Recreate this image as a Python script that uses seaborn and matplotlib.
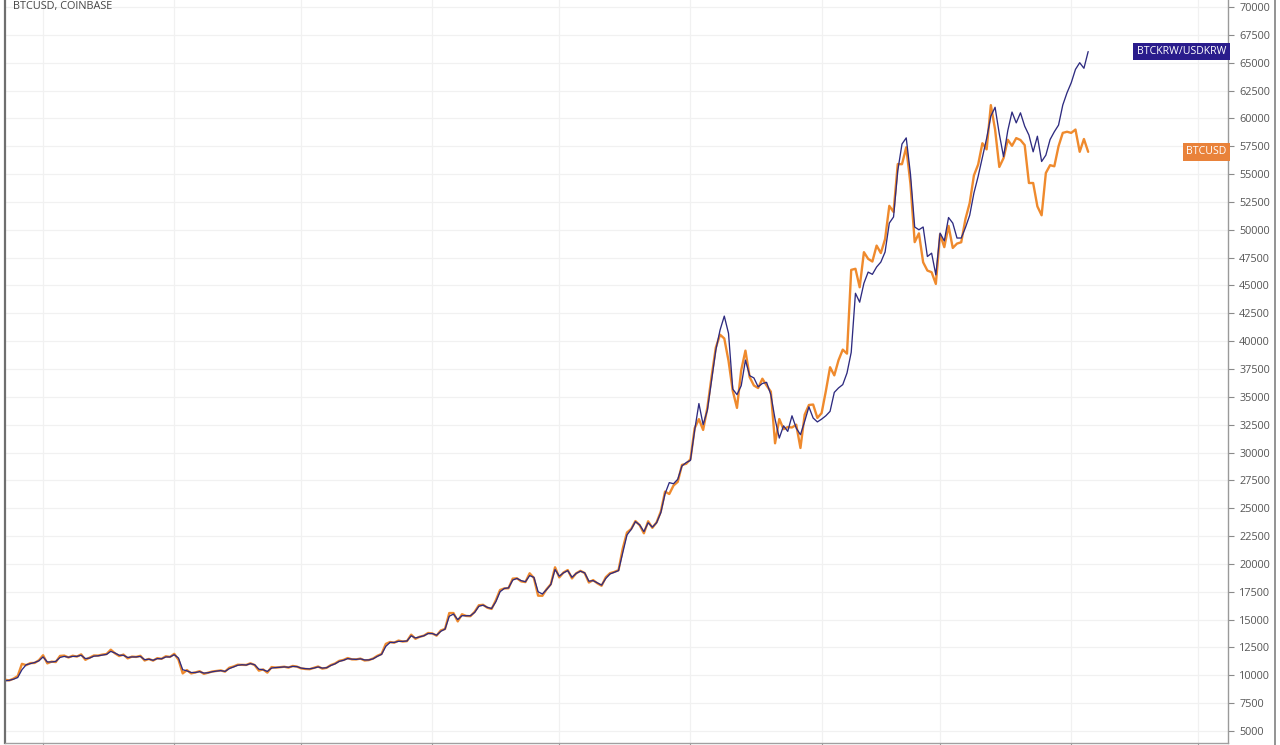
import matplotlib
matplotlib.use("Agg")
import matplotlib.pyplot as plt
import matplotlib.dates as mdates
import matplotlib.transforms as mtransforms
from matplotlib.lines import Line2D
import pandas as pd
import seaborn as sns

# ---------------- data (daily, 2020-07-23 .. 2021-04-05) ----------------
start_date = "2020-07-23"
end_date = "2021-04-05"

btcusd = [
    # Jul 23-31
    9600, 9540, 9700, 9930, 11030, 10910, 11100, 11110, 11350,
    # Aug
    11800, 11070, 11230, 11190, 11740, 11770, 11600, 11760, 11680, 11880,
    11390, 11580, 11780, 11770, 11860, 11910, 12300, 11970, 11730, 11860,
    11520, 11680, 11650, 11750, 11330, 11470, 11320, 11540, 11480, 11710, 11650,
    # Sep
    11930, 11400, 10170, 10470, 10170, 10260, 10370, 10130, 10230, 10340,
    10390, 10440, 10330, 10680, 10790, 10950, 10940, 10930, 11080, 10920,
    10420, 10530, 10240, 10740, 10690, 10730, 10770, 10690, 10840, 10780,
    # Oct
    10620, 10570, 10550, 10670, 10790, 10600, 10670, 10920, 11060, 11300,
    11380, 11550, 11430, 11430, 11500, 11330, 11370, 11510, 11750, 11920,
    12820, 12990, 12930, 13120, 13030, 13070, 13650, 13280, 13460, 13560, 13800,
    # Nov
    13760, 13560, 14030, 14160, 15590, 15590, 14840, 15480, 15330, 15310,
    15700, 16290, 16330, 16070, 15960, 16730, 17660, 17800, 17820, 18680,
    18710, 18430, 18370, 19160, 18740, 17150, 17140, 17730, 18180, 19700,
    # Dec
    18790, 19230, 19450, 18700, 19160, 19380, 19180, 18330, 18550, 18260,
    18040, 18810, 19170, 19280, 19440, 21380, 22820, 23140, 23850, 23480,
    22750, 23830, 23240, 23730, 24710, 26490, 26280, 27040, 27370, 28890, 28990,
    # Jan
    29400, 32190, 33000, 32030, 34030, 36830, 39430, 40580, 40240, 38240,
    35540, 34010, 37390, 39150, 36770, 36020, 35790, 36630, 36020, 35470,
    30830, 33010, 32100, 32290, 32250, 32500, 30410, 33400, 34270, 34310, 33110,
    # Feb
    33540, 35510, 37660, 36930, 38290, 39240, 38880, 46400, 46500, 44840,
    47990, 47390, 47150, 48580, 47910, 49160, 52150, 51600, 55900, 55890,
    57410, 54120, 48890, 49680, 47080, 46340, 46190, 45140,
    # Mar
    49590, 48440, 50350, 48370, 48760, 48880, 50970, 52400, 54880, 55860,
    57770, 57220, 61190, 59000, 55640, 56430, 58080, 57540, 58230, 58060,
    57600, 54200, 54200, 52100, 51300, 55100, 55800, 55700, 57500, 58700, 58800,
    # Apr 1-5
    58700, 59000, 57000, 58150, 57000,
]

btckrw_usdkrw = [
    # Jul 23-31
    9500, 9550, 9650, 9800, 10500, 10950, 11050, 11150, 11300,
    # Aug
    11650, 11200, 11200, 11250, 11600, 11700, 11620, 11700, 11700, 11800,
    11500, 11550, 11720, 11750, 11820, 11880, 12150, 12000, 11800, 11800,
    11600, 11650, 11650, 11700, 11400, 11450, 11350, 11500, 11480, 11650, 11650,
    # Sep
    11850, 11550, 10500, 10400, 10250, 10250, 10330, 10200, 10230, 10320,
    10380, 10420, 10350, 10600, 10750, 10900, 10950, 10920, 11050, 10950,
    10550, 10500, 10350, 10650, 10700, 10720, 10760, 10720, 10800, 10780,
    # Oct
    10650, 10600, 10580, 10650, 10750, 10650, 10680, 10880, 11030, 11250,
    11350, 11500, 11450, 11430, 11480, 11380, 11380, 11480, 11700, 11880,
    12600, 12950, 12950, 13050, 13050, 13080, 13550, 13350, 13450, 13550, 13750,
    # Nov
    13750, 13600, 13950, 14150, 15300, 15500, 15000, 15350, 15350, 15350,
    15650, 16200, 16300, 16100, 16000, 16600, 17500, 17800, 17850, 18550,
    18700, 18500, 18400, 18950, 18800, 17500, 17300, 17700, 18150, 19500,
    # Dec
    18900, 19200, 19400, 18800, 19150, 19350, 19200, 18450, 18500, 18300,
    18100, 18700, 19100, 19250, 19400, 21000, 22600, 23100, 23800, 23500,
    22900, 23700, 23300, 23700, 24600, 26300, 27300, 27200, 27600, 28800, 29100,
    # Jan
    29300, 32000, 34400, 32500, 33800, 36500, 39200, 41000, 42250, 40700,
    35700, 35200, 36000, 38300, 36900, 36700, 35900, 36200, 36300, 35200,
    33000, 31300, 32400, 31900, 33300, 32200, 31600, 32800, 34100, 33100, 32750,
    # Feb
    33000, 33300, 33700, 35400, 35800, 36100, 37140, 39000, 44300, 43500,
    45200, 46200, 46000, 46660, 47100, 48000, 50600, 51150, 55300, 57700,
    58250, 55000, 50250, 50000, 50250, 47600, 47900, 45950,
    # Mar
    49700, 49000, 51100, 50600, 49260, 49260, 50200, 51300, 53300, 54800,
    56500, 58200, 60200, 61000, 58600, 56560, 58900, 60570, 59600, 60500,
    59300, 58500, 57000, 58400, 56130, 56700, 58100, 58800, 59400, 61200, 62300,
    # Apr 1-5
    63200, 64400, 65000, 64500, 66000,
]

y_ticks = list(range(5000, 70001, 2500))
y_tick_labels = [str(v) for v in y_ticks]
title_text = "BTCUSD, COINBASE"
label_usd = "BTCUSD"
label_krw = "BTCKRW/USDKRW"

dates = pd.date_range(start_date, end_date, freq="D")
df = pd.DataFrame({"date": dates, "BTCUSD": btcusd, "BTCKRW": btckrw_usdkrw})

# ---------------- styling ----------------
sns.set_theme(style="white")
plt.rcParams["font.family"] = ["Open Sans", "DejaVu Sans"]

ORANGE = "#EF8A2D"
ORANGE_BOX = "#E9823A"
BLUE = "#2E2B80"
BLUE_BOX = "#2A1C8C"
GRID = "#F1F1F1"

W, H = 1280, 745
fig = plt.figure(figsize=(W / 100, H / 100), dpi=100)
fig.patch.set_facecolor("white")
ax = fig.add_axes([5 / W, 2 / H, 1223 / W, 743 / H])

sns.lineplot(data=df, x="date", y="BTCUSD", color=ORANGE, linewidth=1.7, ax=ax)
sns.lineplot(data=df, x="date", y="BTCKRW", color=BLUE, linewidth=0.95, ax=ax)

x0 = pd.Timestamp("2020-07-23")
ax.set_xlim(x0, x0 + pd.Timedelta(days=289.05))
ax.set_ylim(3923, 70630)

ax.set_xlabel("")
ax.set_ylabel("")

# y axis on right
ax.yaxis.tick_right()
ax.set_yticks(y_ticks)
ax.set_yticklabels(y_tick_labels)
ax.tick_params(axis="y", which="both", right=True, left=False, length=4, width=0.8,
               color="#8a8a8a", labelcolor="#555555", labelsize=7.8, pad=4)

# x: month grid, no labels
ax.xaxis.set_major_locator(mdates.MonthLocator())
ax.tick_params(axis="x", which="both", bottom=True, length=3, width=0.8,
               color="#9a9a9a", labelbottom=False)

ax.grid(True, which="major", axis="both", color=GRID, linewidth=0.9)
ax.set_axisbelow(True)

for side in ["top"]:
    ax.spines[side].set_visible(False)
ax.spines["left"].set_color("#6f6f6f")
ax.spines["left"].set_linewidth(1.6)
ax.spines["bottom"].set_color("#a0a0a0")
ax.spines["bottom"].set_linewidth(1.0)
ax.spines["right"].set_color("#9a9a9a")
ax.spines["right"].set_linewidth(1.0)

# outer right border
fig.add_artist(Line2D([1275 / W, 1275 / W], [0, 1], transform=fig.transFigure,
                      color="#8a8a8a", linewidth=1.3))

# title
fig.text(13 / W, 1 - 0.5 / H, title_text, ha="left", va="top",
         fontsize=7.8, color="#444444")

# last-value labels
trans = mtransforms.blended_transform_factory(ax.transAxes, ax.transData)
ax.text(0.9985, btckrw_usdkrw[-1], label_krw, transform=trans, ha="right", va="center",
        fontsize=7.6, color="white",
        bbox=dict(boxstyle="square,pad=0.32", fc=BLUE_BOX, ec="none"))
ax.text(0.9985, btcusd[-1], label_usd, transform=trans, ha="right", va="center",
        fontsize=7.6, color="white",
        bbox=dict(boxstyle="square,pad=0.32", fc=ORANGE_BOX, ec="none"))

fig.savefig("out.png", dpi=100)
